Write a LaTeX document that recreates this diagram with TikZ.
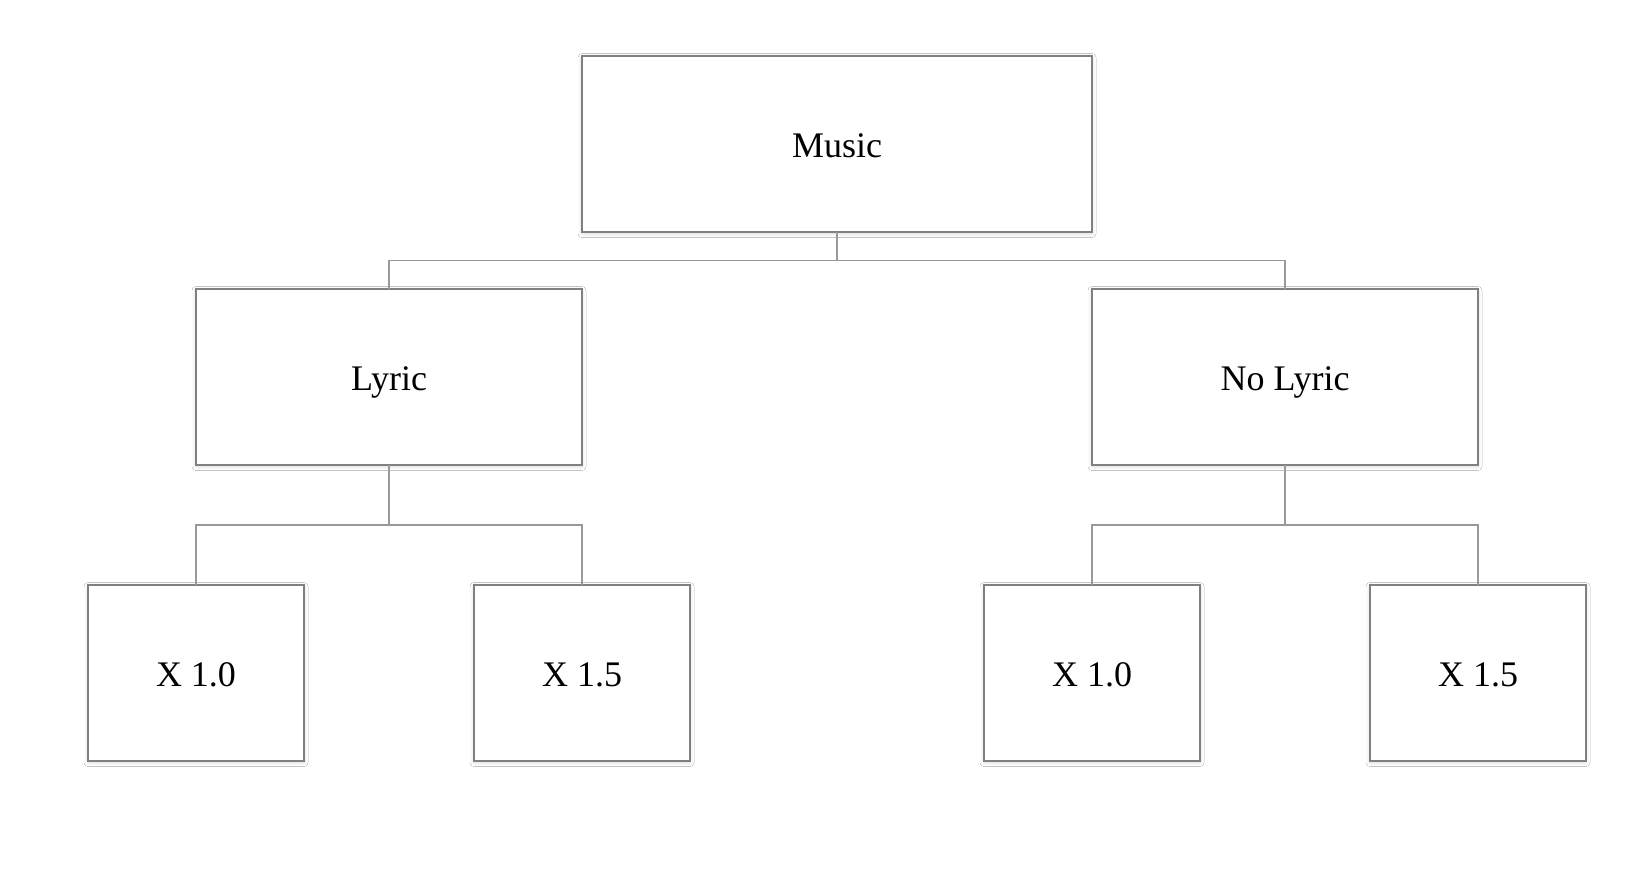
\documentclass[tikz,border=0pt]{standalone}
\usepackage{fontspec}
\setmainfont{Liberation Serif}
\usetikzlibrary{calc,shadows.blur}
\tikzset{
  box/.style={draw=black!50, line width=2pt, fill=white, inner sep=0pt, outer sep=0pt,
    font=\fontsize{36}{42}\selectfont, text depth=0pt, text height=27pt,
    blur shadow={shadow xshift=0pt, shadow yshift=-1.5pt, shadow blur radius=4pt, shadow blur steps=8, shadow opacity=16}},
  bigbox/.style={box, minimum width=510pt, minimum height=176pt},
  midbox/.style={box, minimum width=386pt, minimum height=176pt},
  smallbox/.style={box, minimum width=216pt, minimum height=176pt},
  link/.style={draw=black!40, line width=1.4pt}
}
\begin{document}
\begin{tikzpicture}[x=1pt,y=-1pt]
\useasboundingbox (0,0) rectangle (1648,876);
\fill[white] (0,0) rectangle (1648,876);
\node[bigbox] (music) at (837,144) {Music};
\node[midbox] (lyric) at (389,377) {Lyric};
\node[midbox] (nolyric) at (1285,377) {No Lyric};
\node[smallbox] (a1) at (196,673) {X 1.0};
\node[smallbox] (a2) at (582,673) {X 1.5};
\node[smallbox] (b1) at (1092,673) {X 1.0};
\node[smallbox] (b2) at (1478,673) {X 1.5};
\draw[link] (music.south) |- ($(music.south)!0.5!(lyric.north)$) -| (lyric.north);
\draw[link] (music.south) |- ($(music.south)!0.5!(nolyric.north)$) -| (nolyric.north);
\draw[link] (lyric.south) |- ($(lyric.south)!0.5!(a1.north)$) -| (a1.north);
\draw[link] (lyric.south) |- ($(lyric.south)!0.5!(a2.north)$) -| (a2.north);
\draw[link] (nolyric.south) |- ($(nolyric.south)!0.5!(b1.north)$) -| (b1.north);
\draw[link] (nolyric.south) |- ($(nolyric.south)!0.5!(b2.north)$) -| (b2.north);
\end{tikzpicture}
\end{document}
